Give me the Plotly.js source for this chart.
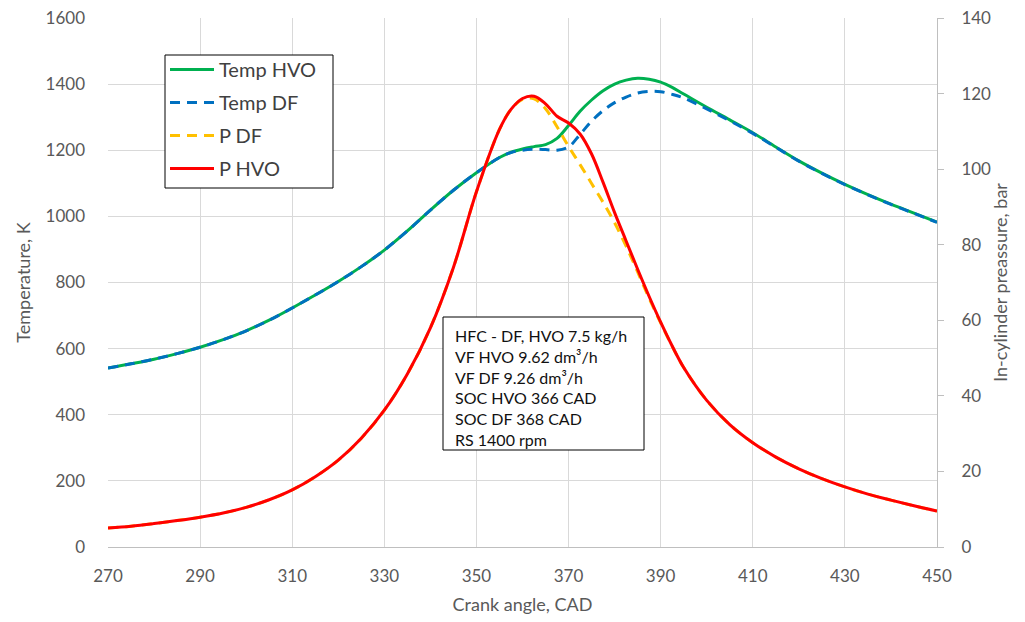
<!DOCTYPE html>
<html>
<head>
<meta charset="utf-8">
<script src="https://cdn.plot.ly/plotly-3.0.1.min.js"></script>
<style>html,body{margin:0;padding:0;background:#fff;}#chart{width:1025px;height:622px;}</style>
</head>
<body>
<div id="chart"></div>
<script>
const cad = [270,275,280,285,290,295,300,305,310,315,320,325,330,335,340,345,350,355,357.5,360,362.5,365,367.5,370,372.5,375,377.5,380,382.5,385,387.5,390,392.5,395,400,405,410,415,420,425,430,435,440,445,450];
const tempHVO = [541,554,568,585,604,627,654,686,723,762,803,848,898,956,1019,1079,1132,1178,1194,1204,1211,1217,1236,1275,1318,1352,1380,1400,1412,1418,1415,1406,1390,1370,1330,1292,1253,1210,1168,1131,1097,1066,1037,1010,983];
const tempDF = [541,554,568,585,604,627,654,686,723,762,803,848,898,956,1019,1079,1132,1178,1193,1200,1203,1202,1200,1210,1248,1288,1320,1344,1361,1373,1378,1377,1369,1358,1325,1289,1251,1209,1167,1130,1096,1065,1036,1009,982];
const pHVO = [5.0,5.5,6.2,7.0,7.9,9.0,10.5,12.5,15.1,18.6,23.0,28.8,36.2,45.8,58,74,94,110.5,115.8,118.7,119.3,117.3,114,112.2,109.3,104,96.5,88.5,81,73.5,66.3,59.5,53.2,47.5,38.8,32.4,27.6,23.8,20.7,18.1,15.9,14.0,12.4,10.9,9.5];
const pDF = [5.0,5.5,6.2,7.0,7.9,9.0,10.5,12.5,15.1,18.6,23.0,28.8,36.2,45.8,58,74,94,110.5,115.8,118.5,118.6,116,111.2,106,101.2,96.2,91.2,85.8,79.6,72.8,65.8,59.3,53.1,47.5,38.8,32.4,27.6,23.8,20.7,18.1,15.9,14.0,12.4,10.9,9.5];
const xTicks = [270,290,310,330,350,370,390,410,430,450];
const noteLines = ["HFC - DF, HVO 7.5 kg/h","VF HVO 9.62 dm³/h","VF DF 9.26 dm³/h","SOC HVO 366 CAD","SOC DF 368 CAD","RS 1400 rpm"];

const FONT = "Lato, 'Open Sans', sans-serif";
const traces = [
  {x: cad, y: tempHVO, name: "Temp HVO", type: "scatter", mode: "lines", yaxis: "y", legendgroup: "a",
   line: {color: "#00B050", width: 3, shape: "spline"}},
  {x: cad, y: tempDF, name: "Temp DF", type: "scatter", mode: "lines", yaxis: "y", legendgroup: "b",
   line: {color: "#0070C0", width: 3, dash: "10px,7px", shape: "spline"}},
  {x: cad, y: pDF, name: "P DF", type: "scatter", mode: "lines", yaxis: "y2", legendgroup: "c",
   line: {color: "#FFC000", width: 3, dash: "10px,7px", shape: "spline"}},
  {x: cad, y: pHVO, name: "P HVO", type: "scatter", mode: "lines", yaxis: "y2", legendgroup: "d",
   line: {color: "#FF0000", width: 3, shape: "spline"}}
];

// plot-area pixel helpers for placing layout decorations
const L = 108, W = 829, T = 18, H = 529;
const px = v => (v - L) / W;
const py = v => (T + H - v) / H;

const noteYs = [335, 356, 377, 397.5, 418, 439];
const annotations = noteLines.map((t, i) => ({
  xref: "paper", yref: "paper", x: px(453), y: py(noteYs[i]), xanchor: "left", yanchor: "middle",
  text: t, align: "left", showarrow: false,
  font: {family: FONT, size: 16, color: "#111"}
}));

const layout = {
  width: 1025, height: 622,
  margin: {l: L, r: 88, t: T, b: 75},
  paper_bgcolor: "#fff", plot_bgcolor: "#fff",
  font: {family: FONT, size: 17, color: "#595959"},
  showlegend: true,
  legend: {
    x: px(165), y: py(50), xanchor: "left", yanchor: "top",
    borderwidth: 0, bgcolor: "rgba(0,0,0,0)",
    font: {family: FONT, size: 20, color: "#404040"},
    traceorder: "grouped", tracegroupgap: 4, itemwidth: 44
  },
  xaxis: {
    range: [270, 450], tickvals: xTicks, ticktext: xTicks.map(String),
    showgrid: true, gridcolor: "#d9d9d9", gridwidth: 1,
    showline: true, linecolor: "#bfbfbf", linewidth: 1,
    zeroline: false, ticks: "", ticklabelstandoff: 14,
    title: {text: "Crank angle, CAD", font: {family: FONT, size: 18, color: "#595959"}, standoff: 12}
  },
  yaxis: {
    range: [0, 1600], dtick: 200, tick0: 0,
    showgrid: true, gridcolor: "#d9d9d9", gridwidth: 1,
    showline: false, zeroline: false, ticks: "", ticklabelstandoff: 22,
    title: {text: "Temperature, K", font: {family: FONT, size: 18, color: "#595959"}, standoff: 10}
  },
  yaxis2: {
    range: [0, 140], dtick: 20, tick0: 0, overlaying: "y", side: "right",
    showgrid: false, zeroline: false,
    showline: true, linecolor: "#bfbfbf", linewidth: 1,
    ticks: "outside", ticklen: 6, tickcolor: "#bfbfbf", ticklabelstandoff: 14,
    title: {text: "In-cylinder preassure, bar", font: {family: FONT, size: 18, color: "#595959"}, standoff: 4}
  },
  shapes: [
    {type: "rect", xref: "paper", yref: "paper",
     x0: px(165), x1: px(333), y0: py(188), y1: py(55),
     line: {color: "#000", width: 1}, fillcolor: "#fff", layer: "above"},
    {type: "rect", xref: "paper", yref: "paper",
     x0: px(443), x1: px(644), y0: py(450), y1: py(317),
     line: {color: "#000", width: 1}, fillcolor: "#fff", layer: "above"}
  ],
  annotations: annotations
};

Plotly.newPlot("chart", traces, layout, {displayModeBar: false, staticPlot: true});
</script>
</body>
</html>
